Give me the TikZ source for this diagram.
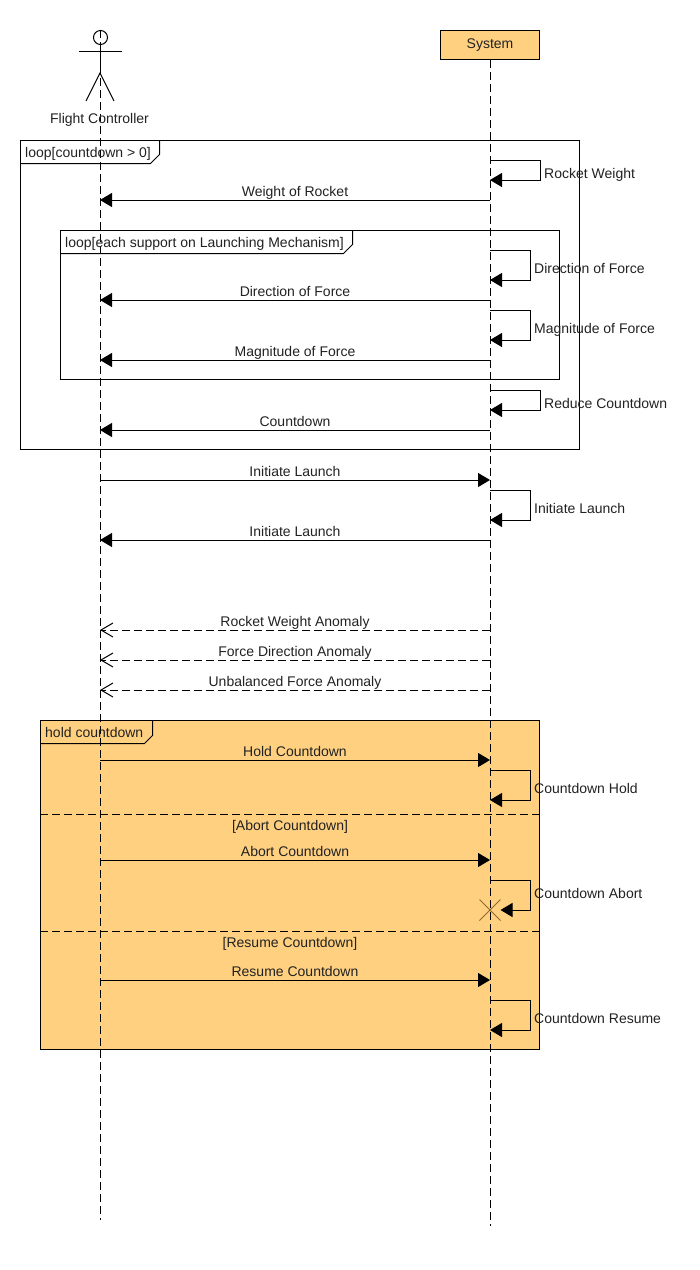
\documentclass[tikz,border=0pt]{standalone}
\usepackage{fontspec}
\setmainfont{Liberation Sans}
\usetikzlibrary{arrows.meta,shapes.misc}
\definecolor{frameorange}{HTML}{FFD080}
\definecolor{labelgrey}{HTML}{222222}
\definecolor{crossbrown}{HTML}{8C6A2E}
\tikzset{
  every node/.style={font=\fontsize{14}{16}\selectfont,text=labelgrey,inner sep=0pt,text height=9.5pt,text depth=2.5pt},
  tx/.style={yshift=-2pt},
  ln/.style={draw=black,line width=1pt},
  life/.style={ln,dash pattern=on 8pt off 4pt},
  msg/.style={ln,-{Triangle[length=12pt,width=14pt]}},
  ret/.style={ln,dash pattern=on 8pt off 4pt,-{Straight Barb[length=12pt,width=14pt,line width=1pt]}},
  lbl/.style={midway,yshift=7pt},
  self/.style={tx,anchor=west},
  framebox/.style={ln},
}
\begin{document}
\begin{tikzpicture}[x=1pt,y=-1pt]
\useasboundingbox (0,0) rectangle (700,1270);
\fill[white] (0,0) rectangle (700,1270);
% lifeline anchors
\coordinate (Atop) at (100,30);
\coordinate (Abot) at (100,1220);
\foreach \y in {200,300,360,430,480,540,630,660,690,760,860,980}{
  \coordinate (A\y) at (100,\y);
  \coordinate (S\y) at (490,\y);
}
\foreach \y in {160,180,250,280,310,340,390,410,490,520,770,800,880,1000,1030}{
  \coordinate (S\y) at (490,\y);
}
% orange frame
\draw[framebox,fill=frameorange] (40.5,720.5) rectangle (539.5,1049.5);
% lifelines
\node[draw=black,line width=1pt,fill=frameorange,minimum width=99pt,minimum height=29pt,anchor=north west] (sys) at (440,30) {System};
\coordinate (Sbot) at (490,1226);
\draw[life] (sys.south -| S160) -- (Sbot);
\draw[life] (Atop) -- (Abot);
% actor
\coordinate (neck) at (100,44);
\coordinate (hip) at (100,73);
\draw[ln] (100.5,37.5) circle[radius=7];
\draw[ln] (neck) -- (hip);
\draw[ln] (79,51.5) -- (122,51.5);
\draw[ln] (86,101) -- (hip) -- (114,101);
\node[tx] (actor) at (99.5,118) {Flight Controller};
% loop frames
\draw[framebox] (20.5,140.5) rectangle (579.5,449.5);
\draw[framebox] (20.5,163.5) -- (150.5,163.5) -- (159.5,154.5) -- (159.5,140.5);
\node[self] (f1) at (25,152) {loop[countdown > 0]};
\draw[framebox] (60.5,230.5) rectangle (559.5,379.5);
\draw[framebox] (60.5,253.5) -- (343.5,253.5) -- (352.5,244.5) -- (352.5,230.5);
\node[self] (f2) at (65,242) {loop[each support on Launching Mechanism]};
% hold frame tab and separators
\draw[framebox] (40.5,743.5) -- (144.5,743.5) -- (152.5,735.5) -- (152.5,720.5);
\node[self] (f3) at (45,732) {hold countdown};
\draw[ln,dash pattern=on 8pt off 4pt] (40,814.5) -- (540,814.5);
\draw[ln,dash pattern=on 8pt off 4pt] (40,931.5) -- (540,931.5);
\node[tx] (g1) at (290,825) {[Abort Countdown]};
\node[tx] (g2) at (290,942) {[Resume Countdown]};
% messages
\draw[msg] (S200) -- node[lbl]{Weight of Rocket} (A200);
\draw[msg] (S300) -- node[lbl]{Direction of Force} (A300);
\draw[msg] (S360) -- node[lbl]{Magnitude of Force} (A360);
\draw[msg] (S430) -- node[lbl]{Countdown} (A430);
\draw[msg] (A480) -- node[lbl]{Initiate Launch} (S480);
\draw[msg] (S540) -- node[lbl]{Initiate Launch} (A540);
\draw[ret] (S630) -- node[lbl]{Rocket Weight Anomaly} (A630);
\draw[ret] (S660) -- node[lbl]{Force Direction Anomaly} (A660);
\draw[ret] (S690) -- node[lbl]{Unbalanced Force Anomaly} (A690);
\draw[msg] (A760) -- node[lbl]{Hold Countdown} (S760);
\draw[msg] (A860) -- node[lbl]{Abort Countdown} (S860);
\draw[msg] (A980) -- node[lbl]{Resume Countdown} (S980);
% self messages
\draw[msg] (S160) -- ++(50,0) |- (S180);
\node[self] (m1) at (544,173) {Rocket Weight};
\draw[msg] (S250) -- ++(40,0) |- (S280);
\node[self] (m2) at (534,268) {Direction of Force};
\draw[msg] (S310) -- ++(40,0) |- (S340);
\node[self] (m3) at (534,328) {Magnitude of Force};
\draw[msg] (S390) -- ++(50,0) |- (S410);
\node[self] (m4) at (544,403) {Reduce Countdown};
\draw[msg] (S490) -- ++(40,0) |- (S520);
\node[self] (m5) at (534,508) {Initiate Launch};
\draw[msg] (S770) -- ++(40,0) |- (S800);
\node[self] (m6) at (534,788) {Countdown Hold};
\node[cross out,draw=crossbrown,line width=1pt,minimum size=20pt,text height=0pt,text depth=0pt] (kill) at (490,910) {};
\draw[msg] (S880) -- ++(40,0) |- (kill.east);
\node[self] (m7) at (534,893) {Countdown Abort};
\draw[msg] (S1000) -- ++(40,0) |- (S1030);
\node[self] (m8) at (534,1018) {Countdown Resume};
\end{tikzpicture}
\end{document}
